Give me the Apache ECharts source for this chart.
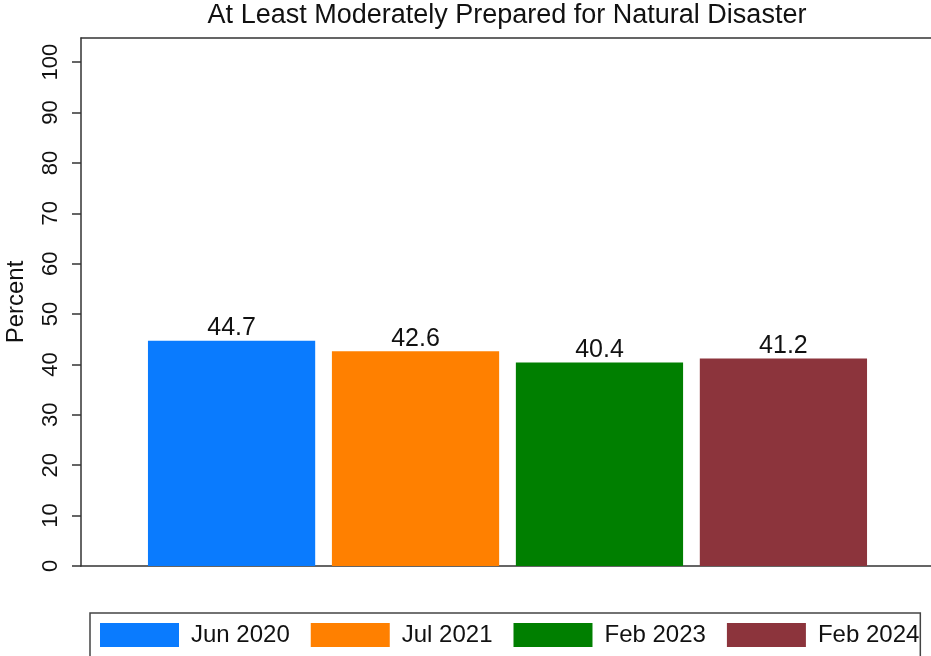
<!DOCTYPE html>
<html>
<head>
<meta charset="utf-8">
<script src="https://cdn.jsdelivr.net/npm/echarts@6/dist/echarts.min.js"></script>
<style>html,body{margin:0;padding:0;background:#fff;}#c{width:931px;height:656px;}</style>
</head>
<body>
<div id="c"></div>
<script>
const categories = ['Prepared'];
const seriesNames = ['Jun 2020', 'Jul 2021', 'Feb 2023', 'Feb 2024'];
const seriesValues = [44.7, 42.6, 40.4, 41.2];
const seriesColors = ['#0a7bfe', '#ff8000', '#007f00', '#8c343c'];
const yTicks = [0, 10, 20, 30, 40, 50, 60, 70, 80, 90, 100];

const font = '"Liberation Sans", Arial, Helvetica, sans-serif';
const chart = echarts.init(document.getElementById('c'), null, {renderer: 'canvas'});
const axisLineStyle = {color: '#333', width: 1.5};
chart.setOption({
  animation: false,
  backgroundColor: '#fff',
  title: {
    text: 'At Least Moderately Prepared for Natural Disaster',
    left: 507, top: 2, textAlign: 'center', padding: 0,
    textStyle: {fontFamily: font, fontSize: 27, fontWeight: 'normal', color: '#111'}
  },
  legend: {
    left: 90, top: 613,
    padding: [10, 1, 10, 10],
    itemWidth: 79, itemHeight: 24, itemGap: 21,
    borderColor: '#444', borderWidth: 1.5,
    icon: 'rect',
    textStyle: {fontFamily: font, fontSize: 24, color: '#111', padding: [0, 0, 0, 7]},
    data: seriesNames
  },
  grid: {
    left: 81, top: 38, right: -3, bottom: 90,
    show: false, containLabel: false, outerBoundsMode: 'none'
  },
  xAxis: [{
    type: 'category', data: categories, position: 'bottom',
    axisLine: {show: true, lineStyle: axisLineStyle},
    axisTick: {show: false}, axisLabel: {show: false}, splitLine: {show: false}
  }, {
    type: 'category', data: categories, position: 'top',
    axisLine: {show: true, lineStyle: axisLineStyle},
    axisTick: {show: false}, axisLabel: {show: false}, splitLine: {show: false}
  }],
  yAxis: {
    type: 'value', min: 0, max: 104.8, interval: 10,
    name: 'Percent', nameLocation: 'middle', nameGap: 53,
    nameTextStyle: {fontFamily: font, fontSize: 24, color: '#111'},
    axisLine: {show: true, lineStyle: axisLineStyle},
    axisTick: {show: true, length: 9, customValues: yTicks, lineStyle: axisLineStyle},
    axisLabel: {rotate: 90, margin: 19, customValues: yTicks, fontFamily: font, fontSize: 22, color: '#111'},
    splitLine: {show: false}
  },
  series: seriesNames.map((n, i) => ({
    name: n, type: 'bar',
    data: [seriesValues[i]],
    barGap: '10%', barCategoryGap: '15.7%',
    itemStyle: {color: seriesColors[i]},
    label: {show: true, position: 'top', distance: 0, fontFamily: font, fontSize: 25, color: '#111',
            formatter: p => p.value.toFixed(1)}
  }))
});
</script>
</body>
</html>
